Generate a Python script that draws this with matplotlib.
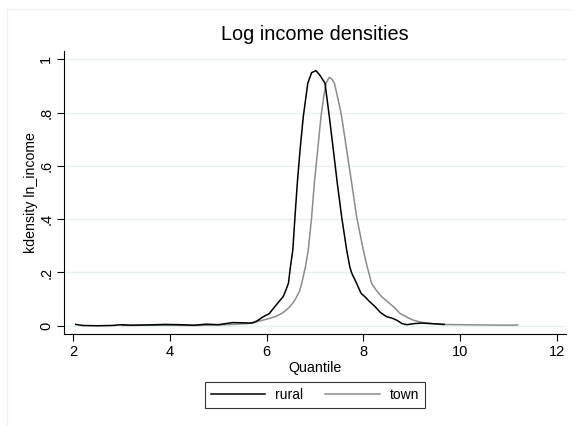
import matplotlib
matplotlib.use("Agg")
import matplotlib.pyplot as plt
from matplotlib.lines import Line2D

plt.rcParams['font.family'] = ['Liberation Sans', 'DejaVu Sans']

# values
rural_x = [2.05, 2.2, 2.5, 2.8, 3.0, 3.2, 3.5, 3.9, 4.2, 4.5, 4.75, 5.0, 5.3, 5.5, 5.7,
           5.8, 5.93, 6.05, 6.17, 6.26, 6.34, 6.40, 6.45, 6.49, 6.54, 6.585, 6.633,
           6.69, 6.757, 6.85, 6.93, 7.02, 7.10, 7.206, 7.295, 7.378, 7.46, 7.55,
           7.654, 7.72, 7.76, 7.86, 7.95, 8.03, 8.12, 8.24, 8.35, 8.48, 8.6, 8.7,
           8.8, 8.9, 9.05, 9.2, 9.4, 9.67]
rural_y = [0.005, 0.001, 0.0, 0.001, 0.004, 0.002, 0.003, 0.005, 0.004, 0.002, 0.006,
           0.004, 0.012, 0.011, 0.010, 0.018, 0.034, 0.045, 0.072, 0.092, 0.109,
           0.135, 0.16, 0.22, 0.284, 0.409, 0.535, 0.66, 0.785, 0.91, 0.95, 0.957,
           0.94, 0.91, 0.785, 0.66, 0.535, 0.409, 0.284, 0.22, 0.197, 0.159, 0.122,
           0.109, 0.092, 0.072, 0.05, 0.034, 0.028, 0.02, 0.008, 0.004, 0.008, 0.01,
           0.008, 0.005]

town_x = [3.0, 3.5, 4.0, 4.5, 5.0, 5.3, 5.6, 5.79, 6.07, 6.20, 6.31, 6.40, 6.48, 6.56,
          6.62, 6.68, 6.724, 6.80, 6.86, 6.93, 6.985, 7.055, 7.123, 7.18, 7.227, 7.295,
          7.35, 7.40, 7.48, 7.55, 7.654, 7.758, 7.86, 7.998, 8.08, 8.17, 8.28, 8.38,
          8.5, 8.62, 8.76, 8.9, 9.03, 9.2, 9.38, 9.6, 10.0, 10.5, 11.0, 11.19]
town_y = [0.001, 0.002, 0.002, 0.001, 0.003, 0.005, 0.008, 0.015, 0.028, 0.036, 0.046,
          0.058, 0.072, 0.09, 0.109, 0.13, 0.159, 0.22, 0.284, 0.409, 0.535, 0.66,
          0.785, 0.86, 0.91, 0.932, 0.925, 0.91, 0.847, 0.785, 0.66, 0.535, 0.409,
          0.284, 0.22, 0.159, 0.13, 0.109, 0.09, 0.072, 0.046, 0.032, 0.021, 0.013,
          0.009, 0.005, 0.004, 0.003, 0.002, 0.003]

x_ticks = [2, 4, 6, 8, 10, 12]
y_ticks = [0, 0.2, 0.4, 0.6, 0.8, 1.0]
y_labels = ['0', '.2', '.4', '.6', '.8', '1']

fig = plt.figure(figsize=(5.72, 4.26), dpi=100)
ax = fig.add_axes([0.1124, 0.2153, 0.8771, 0.6657])

for yt in y_ticks:
    ax.axhline(yt, color='#e8eff2', lw=1.0, zorder=1)

l1, = ax.plot(rural_x, rural_y, color='black', lw=1.1, zorder=3)
l2, = ax.plot(town_x, town_y, color='#8c8c8c', lw=1.1, zorder=2)

ax.set_xlim(1.814, 12.19)
ax.set_ylim(-0.032, 1.032)
ax.set_xticks(x_ticks)
ax.set_yticks(y_ticks)
ax.set_yticklabels(y_labels, rotation=90, va='center')
ax.tick_params(direction='out', length=5, width=0.8, labelsize=10.5, pad=3)

for s in ['top', 'right']:
    ax.spines[s].set_visible(False)

ax.set_title('Log income densities', fontsize=14.3, pad=8)
ax.set_xlabel('Quantile', fontsize=10.3, labelpad=1)
ax.set_ylabel('kdensity ln_income', fontsize=10.2, labelpad=1)

leg = fig.legend([l1, l2], ['rural', 'town'], loc='center',
                 bbox_to_anchor=(0.5507, 0.0728), ncol=2, fontsize=10,
                 frameon=True, fancybox=False, edgecolor='black',
                 handlelength=3.9, columnspacing=1.6, handletextpad=0.7,
                 borderpad=0.45)
leg.get_frame().set_linewidth(0.8)

# faint outer frame of the graph region
fig.add_artist(Line2D([0.0128, 0.0128], [0.0, 0.978], color='#eef2f4', lw=1))
fig.add_artist(Line2D([0.0128, 1.0], [0.978, 0.978], color='#eef2f4', lw=1))

fig.savefig('out.png', dpi=100)
